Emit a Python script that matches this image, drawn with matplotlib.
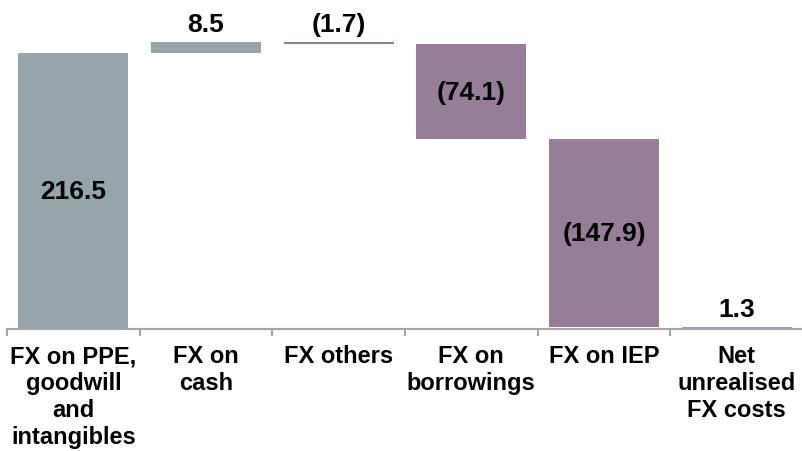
import numpy as np
import matplotlib.pyplot as plt
from matplotlib.ticker import FixedLocator

# === DATA ===
categories = ['FX on PPE,\ngoodwill\nand\nintangibles', 'FX on\ncash', 'FX others',
              'FX on\nborrowings', 'FX on IEP', 'Net\nunrealised\nFX costs']
changes = [216.5, 8.5, -1.7, -74.1, -147.9]
total = 1.3
labels = ['216.5', '8.5', '(1.7)', '(74.1)', '(147.9)', '1.3']

GREY = '#96A5AA'
PURPLE = '#967D98'

plt.rcParams['font.family'] = ['Liberation Sans', 'DejaVu Sans']

# waterfall bottoms / heights
starts = np.concatenate([[0], np.cumsum(changes)[:-1]])
bottoms = list(np.where(np.array(changes) >= 0, starts, starts + np.array(changes))) + [0]
heights = [abs(c) for c in changes] + [total]
colors = [GREY if c >= 0 else PURPLE for c in changes] + [GREY]

fig = plt.figure(figsize=(8.03, 4.52), dpi=100)
ax = fig.add_axes([7 / 803, 122 / 452, 796 / 803, 330 / 452])

x = np.arange(len(categories))
ax.bar(x, heights, bottom=bottoms, width=0.83, color=colors)

ax.set_xlim(-0.5, len(categories) - 0.5)
ax.set_ylim(0, 259)

# value labels: inside big bars, above thin ones
for i, (b, h, lab) in enumerate(zip(bottoms, heights, labels)):
    if h > 30:
        ax.text(i, b + h / 2, lab, ha='center', va='center', fontsize=19, fontweight='bold')
    else:
        ax.text(i, b + h + 5, lab, ha='center', va='bottom', fontsize=19, fontweight='bold')

for s in ['top', 'right', 'left']:
    ax.spines[s].set_visible(False)
ax.spines['bottom'].set_color('#A8A3AE')
ax.spines['bottom'].set_linewidth(1.5)
ax.set_yticks([])

ax.set_xticks(x)
ax.set_xticklabels(categories, fontsize=17, fontweight='bold', linespacing=1.22)
ax.tick_params(axis='x', which='major', length=0, pad=11)
ax.xaxis.set_minor_locator(FixedLocator(np.arange(-0.5, len(categories), 1)))
ax.tick_params(axis='x', which='minor', length=5, width=1.5, color='#A8A3AE')

fig.savefig('out.png', dpi=100)
